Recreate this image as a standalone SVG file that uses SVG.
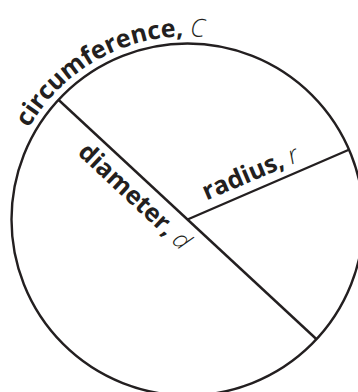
<svg xmlns="http://www.w3.org/2000/svg" width="358" height="392" viewBox="0 0 358 392">
<style>
.ln{fill:none;stroke:#231f20;stroke-width:2.4}
.lb{font-family:"Open Sans","Noto Sans",sans-serif;font-weight:bold;font-size:25px;fill:#231f20}
.it{font-family:"Open Sans","Noto Sans",sans-serif;font-style:italic;font-weight:300;font-size:25px;fill:#231f20}
</style>
<defs>
<path id="arc" d="M 29.0 128.0 A 183 183 0 0 1 279 61"/>
</defs>
<rect width="358" height="392" fill="#fff"/>
<g id="circle">
<circle class="ln" cx="187.5" cy="219.5" r="176"/>
<text class="lb"><textPath href="#arc" startOffset="0">circumference, <tspan class="it">C</tspan></textPath></text>
</g>
<g id="connectors">
<line id="diameter-line" class="ln" x1="58.7" y1="100" x2="316.3" y2="339"/>
<line id="radius-line" class="ln" x1="187.5" y1="219.5" x2="348.3" y2="150"/>
</g>
<g id="diameter">
<text class="lb" transform="translate(58.7 100) rotate(43)" x="50" y="27">diameter, <tspan class="it">d</tspan></text>
</g>
<g id="radius">
<text class="lb" transform="translate(187.5 219.5) rotate(-23)" x="25" y="-10">radius, <tspan class="it">r</tspan></text>
</g>
</svg>
